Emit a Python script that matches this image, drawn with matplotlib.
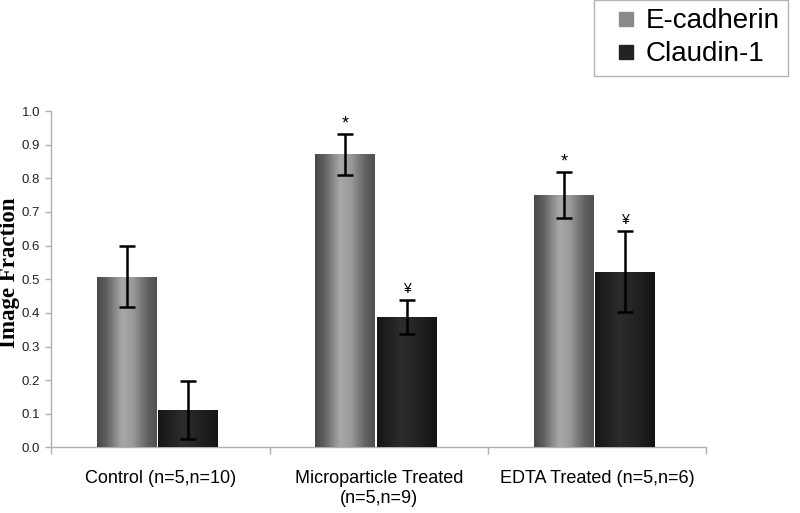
import numpy as np
import matplotlib
matplotlib.use("Agg")
import matplotlib.pyplot as plt
from matplotlib.lines import Line2D
from matplotlib.colors import LinearSegmentedColormap

groups = ["Control (n=5,n=10)", "Microparticle Treated\n(n=5,n=9)", "EDTA Treated (n=5,n=6)"]
series = ["E-cadherin", "Claudin-1"]
ecad = [0.508, 0.871, 0.75]
ecad_err = [0.09, 0.06, 0.068]
claudin = [0.111, 0.387, 0.522]
claudin_err = [0.087, 0.05, 0.12]
ecad_marks = ["", "*", "*"]
claudin_marks = ["", "\u00a5", "\u00a5"]

ecad_cmap = LinearSegmentedColormap.from_list(
    "ecad", [(0, "#474747"), (0.15, "#5e5e5e"), (0.42, "#a8a8a8"),
             (0.6, "#9a9a9a"), (0.85, "#606060"), (1, "#505050")])
claud_cmap = LinearSegmentedColormap.from_list(
    "claud", [(0, "#151515"), (0.4, "#2c2c2c"), (0.7, "#222222"), (1, "#141414")])

fig = plt.figure(figsize=(8, 5.13), dpi=100)
ax = fig.add_axes([0.064, 0.1277, 0.819, 0.6559])

x = np.arange(len(groups)) + 0.5
w = 0.274
b1 = ax.bar(x - 0.153, ecad, w, color="#888888", zorder=2)
b2 = ax.bar(x + 0.127, claudin, w, color="#222222", zorder=2)

# cylinder-like shading, clipped to each bar
grad = np.linspace(0, 1, 256).reshape(1, -1)
for bars, cmap in ((b1, ecad_cmap), (b2, claud_cmap)):
    for bar in bars:
        bx, bw, bh = bar.get_x(), bar.get_width(), bar.get_height()
        im = ax.imshow(grad, cmap=cmap, aspect="auto", extent=[bx, bx + bw, 0, bh],
                       zorder=3, interpolation="bicubic")
        im.set_clip_path(bar)

ax.errorbar(x - 0.153, ecad, yerr=ecad_err, fmt="none", ecolor="black",
            elinewidth=1.8, capsize=6, capthick=1.8, zorder=4)
ax.errorbar(x + 0.127, claudin, yerr=claudin_err, fmt="none", ecolor="black",
            elinewidth=1.8, capsize=6, capthick=1.8, zorder=4)

for i in range(len(groups)):
    if ecad_marks[i]:
        ax.text(x[i] - 0.153, ecad[i] + ecad_err[i] + 0.005, ecad_marks[i],
                ha="center", va="bottom", fontsize=13, family="Liberation Sans")
    if claudin_marks[i]:
        ax.text(x[i] + 0.127, claudin[i] + claudin_err[i] + 0.012, claudin_marks[i],
                ha="center", va="bottom", fontsize=10, family="Liberation Sans")

ax.set_xlim(0, 3)
ax.set_ylim(0, 1.0)
ax.set_yticks(np.arange(0, 1.01, 0.1))
ax.set_yticklabels([f"{v:.1f}" for v in np.arange(0, 1.01, 0.1)],
                   fontsize=9.5, family="Liberation Sans", color="#222222")
ax.set_xticks([0, 1, 2, 3])
ax.set_xticklabels([])
ax.set_xticks(x, minor=True)
ax.set_xticklabels(groups, minor=True, fontsize=13, family="Liberation Sans",
                   linespacing=1.25)
ax.tick_params(axis="x", which="minor", length=0, pad=16)
ax.tick_params(axis="x", which="major", length=5, color="#b0b0b0", width=1)
ax.tick_params(axis="y", length=4, color="#b0b0b0", width=1, pad=4)
for s in ("top", "right"):
    ax.spines[s].set_visible(False)
for s in ("left", "bottom"):
    ax.spines[s].set_color("#b0b0b0")
    ax.spines[s].set_linewidth(1)

ax.set_ylabel("Image Fraction", fontsize=16.5, family="Liberation Serif",
              fontweight="bold")
ax.yaxis.set_label_coords(-0.047, 0.52)

handles = [Line2D([], [], marker="s", linestyle="none", markersize=9.5,
                  markerfacecolor="#8a8a8a", markeredgecolor="#8a8a8a"),
           Line2D([], [], marker="s", linestyle="none", markersize=9.5,
                  markerfacecolor="#222222", markeredgecolor="#222222")]
leg = fig.legend(handles, series, loc="upper left", bbox_to_anchor=(0.7425, 1.0),
                 prop={"family": "Liberation Sans", "size": 20}, frameon=True,
                 fancybox=False, edgecolor="#a0a0a0", handlelength=1.7,
                 handletextpad=-0.13, borderpad=0.3,
                 labelspacing=0.25, borderaxespad=0)
leg.get_frame().set_linewidth(1)

fig.savefig("out.png", dpi=100)
